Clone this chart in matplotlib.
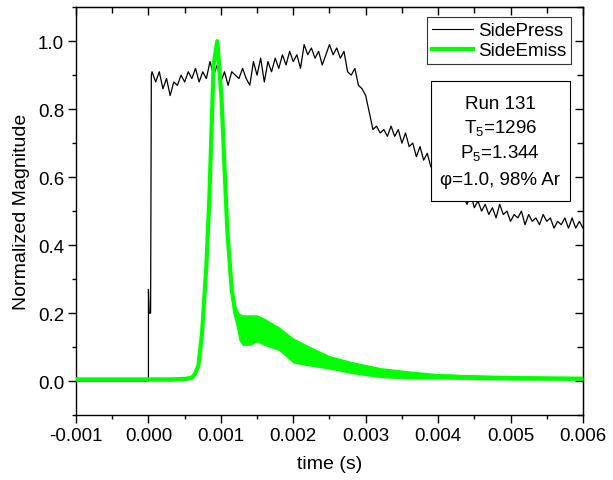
import numpy as np
import matplotlib
matplotlib.use("Agg")
import matplotlib.pyplot as plt
from matplotlib.ticker import MultipleLocator, FormatStrFormatter
from matplotlib.patches import Rectangle
from matplotlib.lines import Line2D

plt.rcParams['font.family'] = ['Liberation Sans', 'DejaVu Sans']
plt.rcParams['mathtext.fontset'] = 'custom'
plt.rcParams['mathtext.rm'] = 'Liberation Sans'
plt.rcParams['mathtext.it'] = 'Liberation Sans'

# ---- SidePress (black) ----
press_t_start = [-0.001, 0.0, 0.0, 0.00001, 0.00003, 0.00004]
press_v_start = [0.0, 0.0, 0.27, 0.20, 0.20, 0.90]
press_t_main = np.round(np.arange(0.00005, 0.006001, 0.00005), 6)
press_v_main = [
    0.91, 0.88, 0.91, 0.86, 0.89, 0.84, 0.88, 0.87, 0.90, 0.88,
    0.91, 0.89, 0.92, 0.88, 0.91, 0.89, 0.94, 0.90, 0.93, 0.88,
    0.91, 0.87, 0.91, 0.90, 0.89, 0.92, 0.89, 0.87, 0.94, 0.90,
    0.95, 0.88, 0.94, 0.91, 0.95, 0.92, 0.96, 0.93, 0.97, 0.94,
    0.96, 0.92, 0.99, 0.96, 0.98, 0.95, 0.97, 0.93, 0.96, 0.99,
    0.96, 0.98, 0.95, 0.97, 0.91, 0.90, 0.92, 0.87, 0.86, 0.84,
    0.79, 0.74, 0.75, 0.73, 0.74, 0.72, 0.75, 0.72, 0.74, 0.70,
    0.73, 0.69, 0.70, 0.66, 0.69, 0.65, 0.67, 0.63, 0.64, 0.61,
    0.62, 0.59, 0.60, 0.57, 0.58, 0.55, 0.54, 0.52, 0.55, 0.51,
    0.53, 0.50, 0.52, 0.49, 0.51, 0.48, 0.52, 0.49, 0.50, 0.47,
    0.49, 0.48, 0.50, 0.46, 0.49, 0.47, 0.48, 0.46, 0.49, 0.47,
    0.48, 0.45, 0.47, 0.46, 0.48, 0.45, 0.48, 0.45, 0.47, 0.45,
]
press_t = np.concatenate([press_t_start, press_t_main])
press_v = np.concatenate([press_v_start, press_v_main])

# ---- SideEmiss (green): centre line and half-width of the noisy band ----
emiss_t = [-0.001, -0.0005, 0.0, 0.0003, 0.0005, 0.0006, 0.00064, 0.00069,
           0.00074, 0.0008, 0.00084, 0.00087, 0.0009, 0.00095, 0.00101,
           0.00105, 0.00109, 0.00115, 0.0012, 0.00125, 0.0013, 0.0014,
           0.0015, 0.0016, 0.0018, 0.002, 0.0022, 0.0025, 0.0028, 0.0032,
           0.0036, 0.004, 0.0045, 0.005, 0.0055, 0.006]
emiss_mid = [0.005, 0.005, 0.005, 0.005, 0.006, 0.010, 0.020, 0.045,
             0.14, 0.34, 0.53, 0.73, 0.93, 1.00, 0.83,
             0.63, 0.44, 0.27, 0.20, 0.16, 0.15, 0.15,
             0.155, 0.145, 0.125, 0.09, 0.075, 0.055, 0.04, 0.025,
             0.018, 0.014, 0.011, 0.009, 0.008, 0.007]
emiss_half = [0.005, 0.005, 0.005, 0.005, 0.004, 0.002, 0.0, 0.0,
              0.0, 0.0, 0.0, 0.0, 0.0, 0.0, 0.0,
              0.0, 0.0, 0.0, 0.025, 0.04, 0.045, 0.045,
              0.04, 0.04, 0.035, 0.037, 0.03, 0.02, 0.018, 0.015,
              0.012, 0.008, 0.007, 0.006, 0.005, 0.005]

info_lines = ["Run 131", "T$_5$=1296", "P$_5$=1.344", "\u03c6=1.0, 98% Ar"]

fs = 13.5
fig = plt.figure(figsize=(6.13, 4.81), dpi=100)
ax = fig.add_axes([0.124, 0.135, 0.827, 0.848])

ax.plot(press_t, press_v, color='black', lw=0.9, zorder=2)
em_t = np.array(emiss_t)
em_m = np.array(emiss_mid)
em_h = np.array(emiss_half)
ax.fill_between(em_t, em_m - em_h, em_m + em_h, color='#00ff00', lw=0, zorder=3)
ax.plot(em_t, em_m, color='#00ff00', lw=3.0, zorder=3)

ax.set_xlim(-0.001, 0.006)
ax.set_ylim(-0.1, 1.1)

ax.xaxis.set_major_locator(MultipleLocator(0.001))
ax.xaxis.set_minor_locator(MultipleLocator(0.0005))
ax.xaxis.set_major_formatter(FormatStrFormatter('%.3f'))
ax.yaxis.set_major_locator(MultipleLocator(0.2))
ax.yaxis.set_minor_locator(MultipleLocator(0.1))
ax.yaxis.set_major_formatter(FormatStrFormatter('%.1f'))

ax.tick_params(which='both', direction='out', width=1.0, labelsize=fs,
               top=False, right=False)
ax.tick_params(which='major', length=5.5, pad=3)
ax.tick_params(which='minor', length=3)

secx = ax.secondary_xaxis('top')
secx.xaxis.set_major_locator(MultipleLocator(0.001))
secx.xaxis.set_minor_locator(MultipleLocator(0.0005))
secx.tick_params(which='both', direction='in', labeltop=False, width=1.0)
secx.tick_params(which='major', length=5.5)
secx.tick_params(which='minor', length=4)
secy = ax.secondary_yaxis('right')
secy.yaxis.set_major_locator(MultipleLocator(0.2))
secy.yaxis.set_minor_locator(MultipleLocator(0.1))
secy.tick_params(which='both', direction='in', labelright=False, width=1.0)
secy.tick_params(which='major', length=5.5)
secy.tick_params(which='minor', length=4)

for sp in ax.spines.values():
    sp.set_linewidth(1.0)

ax.set_xlabel('time (s)', fontsize=fs + 0.5, labelpad=8)
ax.set_ylabel('Normalized Magnitude', fontsize=fs + 0.5, labelpad=6)

handles = [Line2D([], [], color='black', lw=0.8),
           Line2D([], [], color='#00ff00', lw=3.0)]
leg = ax.legend(handles, ['SidePress', 'SideEmiss'], loc='upper right',
                bbox_to_anchor=(0.976, 0.975), borderaxespad=0, fontsize=fs,
                frameon=True, fancybox=False, edgecolor='black',
                handlelength=2.2, handletextpad=0.25, borderpad=0.25,
                labelspacing=0.15)
leg.get_frame().set_linewidth(0.8)
leg.set_zorder(10)

rect = Rectangle((0.700, 0.5245), 0.274, 0.294, transform=ax.transAxes,
                 facecolor='white', edgecolor='black', lw=0.8, zorder=8)
ax.add_patch(rect)
ys = [0.765, 0.706, 0.645, 0.578]
for s, y in zip(info_lines, ys):
    ax.text(0.837, y, s, transform=ax.transAxes, ha='center', va='center',
            fontsize=fs, zorder=9)

fig.savefig('out.png', dpi=100)
